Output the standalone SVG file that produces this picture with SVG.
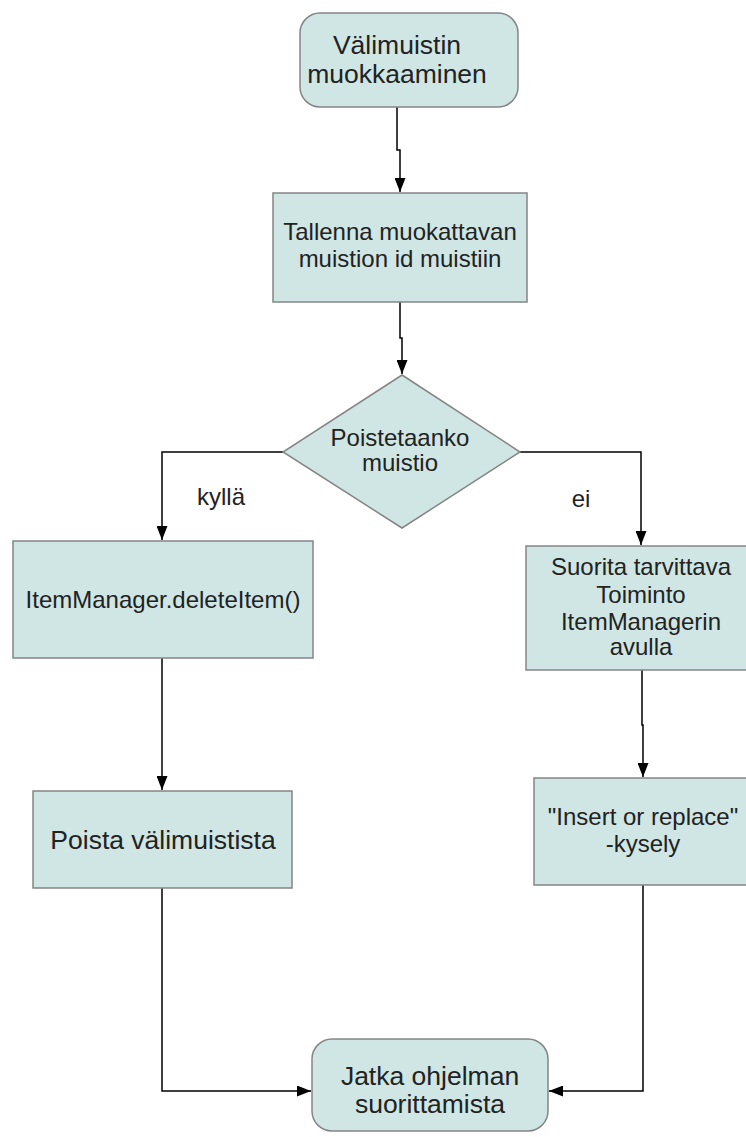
<svg xmlns="http://www.w3.org/2000/svg" width="746" height="1137" viewBox="0 0 746 1137">
<style>
.n{fill:#cfe6e4;stroke:#858585;stroke-width:1.5}
.t{font-family:"Liberation Sans",Arial,sans-serif;font-size:24px;fill:#222;text-anchor:middle}
.b{font-size:26.5px}
.c{fill:none;stroke:#000;stroke-width:1.5}
</style>
<defs>
<marker id="a" markerUnits="userSpaceOnUse" markerWidth="14" markerHeight="11" viewBox="0 0 14 11" refX="14" refY="5.5" orient="auto">
<path d="M0,0 L14,5.5 L0,11 z" fill="#000"/>
</marker>
</defs>
<rect width="746" height="1137" fill="#fff"/>
<g id="connectors">
<path class="c" d="M397,107 V150 H400 V192" marker-end="url(#a)"/>
<path class="c" d="M400,302 V338 H402 V374" marker-end="url(#a)"/>
<path class="c" d="M283,452 H162 V540" marker-end="url(#a)"/>
<path class="c" d="M520,452 H641 V545" marker-end="url(#a)"/>
<path class="c" d="M162,658 V790" marker-end="url(#a)"/>
<path class="c" d="M642,670 V725 H643 V777" marker-end="url(#a)"/>
<path class="c" d="M162,888 V1091 H311" marker-end="url(#a)"/>
<path class="c" d="M643,885 V1091 H549" marker-end="url(#a)"/>
</g>
<g id="start">
<rect class="n" x="300" y="13" width="218" height="94" rx="20"/>
<text class="t b" x="397" y="54">Välimuistin</text>
<text class="t b" x="397" y="83">muokkaaminen</text>
</g>
<g id="tallenna">
<rect class="n" x="273" y="193" width="254" height="109"/>
<text class="t" x="400" y="240">Tallenna muokattavan</text>
<text class="t" x="400" y="267">muistion id muistiin</text>
</g>
<g id="poistetaanko">
<polygon class="n" points="402,375 520,452 402,528 283,452"/>
<text class="t" x="400" y="446">Poistetaanko</text>
<text class="t" x="400" y="471">muistio</text>
</g>
<g id="label-kylla">
<text class="t" x="221" y="505">kyllä</text>
</g>
<g id="label-ei">
<text class="t" x="581" y="507">ei</text>
</g>
<g id="delete">
<rect class="n" x="13" y="541" width="300" height="117"/>
<text class="t" x="163" y="608">ItemManager.deleteItem()</text>
</g>
<g id="suorita">
<rect class="n" x="526" y="546" width="230" height="124"/>
<text class="t" x="641" y="575">Suorita tarvittava</text>
<text class="t" x="641" y="603">Toiminto</text>
<text class="t" x="641" y="630">ItemManagerin</text>
<text class="t" x="641" y="655">avulla</text>
</g>
<g id="poista">
<rect class="n" x="33" y="791" width="259" height="97"/>
<text class="t b" x="163" y="849">Poista välimuistista</text>
</g>
<g id="insert">
<rect class="n" x="534" y="778" width="220" height="107"/>
<text class="t" x="643" y="825">"Insert or replace"</text>
<text class="t" x="643" y="852">-kysely</text>
</g>
<g id="end">
<rect class="n" x="312" y="1039" width="236" height="92" rx="20"/>
<text class="t b" x="430" y="1085">Jatka ohjelman</text>
<text class="t b" x="430" y="1113">suorittamista</text>
</g>
</svg>
